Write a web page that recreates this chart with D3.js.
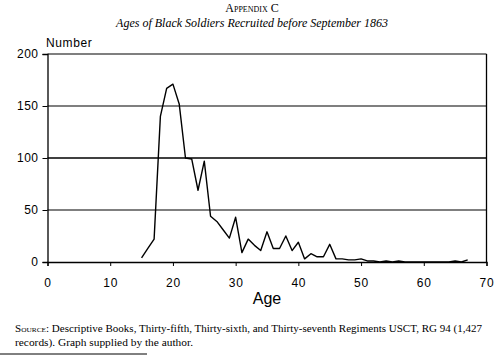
<!DOCTYPE html>
<html><head><meta charset="utf-8">
<script src="https://cdn.jsdelivr.net/npm/d3@7"></script>
<style>
html,body{margin:0;padding:0;background:#fff;}
svg{display:block;}
</style></head>
<body>
<svg id="c" width="500" height="355"></svg>
<script>
const ages = [15,16,17,18,19,20,21,22,23,24,25,26,27,28,29,30,31,32,33,34,35,36,37,38,39,40,41,42,43,44,45,46,47,48,49,50,51,52,53,54,55,56,57,58,59,60,61,62,63,64,65,66,67];
const counts = [4,13,22,140,167,171,152,100,99,69,97,44,39,31,23,43,9,22,16,11,29,13,13,25,11,19,3,8,5,5,17,3,3,2,2,3,1,1,0,1,0,1,0,0,0,0,0,0,0,0,1,0,2];
const xTicks = [0,10,20,30,40,50,60,70];
const yTicks = [0,50,100,150,200];
const titleLine1 = "Appendix C";
const titleLine2 = "Ages of Black Soldiers Recruited before September 1863";
const yLabel = "Number";
const xLabel = "Age";
const sourceLine1 = "Descriptive Books, Thirty-fifth, Thirty-sixth, and Thirty-seventh Regiments USCT, RG 94 (1,427";
const sourceLine2 = "records). Graph supplied by the author.";

const svg = d3.select("#c");
const x = d3.scaleLinear().domain([0,70]).range([47.5,486.5]);
const y = d3.scaleLinear().domain([0,200]).range([262,54]);
const sans = "'Liberation Sans', Arial, sans-serif";
const serif = "'Liberation Serif', 'Times New Roman', serif";

// titles
svg.append("text").attr("x",252).attr("y",12).attr("text-anchor","middle")
  .attr("font-family",serif).attr("font-size",12).style("font-variant","small-caps")
  .text(titleLine1);
svg.append("text").attr("x",252).attr("y",27).attr("text-anchor","middle")
  .attr("font-family",serif).attr("font-size",12).attr("font-style","italic")
  .text(titleLine2);

// gridlines
svg.append("g").selectAll("line").data(yTicks.filter(d=>d>0)).join("line")
  .attr("x1",x(0)).attr("x2",x(70)).attr("y1",d=>y(d)).attr("y2",d=>y(d))
  .attr("stroke","#000").attr("stroke-width",d=>d===100?1.6:1.1);
// frame right
svg.append("line").attr("x1",x(70)).attr("x2",x(70)).attr("y1",y(200)).attr("y2",y(0))
  .attr("stroke","#000").attr("stroke-width",1.3);

// axes
const yAxis = d3.axisLeft(y).tickValues(yTicks).tickSize(5).tickPadding(4);
const gy = svg.append("g").attr("transform",`translate(${x(0)},0)`).call(yAxis);
gy.select(".domain").attr("stroke-width",1.3);
gy.selectAll("text").attr("font-family",sans).attr("font-size",12).attr("fill","#000").attr("letter-spacing","0.5px");

const xAxis = d3.axisBottom(x).tickValues(xTicks).tickSize(4).tickPadding(12);
const gx = svg.append("g").attr("transform",`translate(0,${y(0)})`).call(xAxis);
gx.select(".domain").attr("stroke-width",1.3);
gx.selectAll("text").attr("font-family",sans).attr("font-size",12).attr("fill","#000").attr("letter-spacing","0.8px");

svg.append("text").attr("x",46).attr("y",47).attr("font-family",sans).attr("font-size",12)
  .attr("letter-spacing","0.6px").text(yLabel);
svg.append("text").attr("x",267).attr("y",304).attr("text-anchor","middle")
  .attr("font-family",sans).attr("font-size",16).text(xLabel);

// data line
const line = d3.line().x((d,i)=>x(ages[i])).y(d=>y(d));
svg.append("path").datum(counts).attr("d",line).attr("fill","none")
  .attr("stroke","#000").attr("stroke-width",1.4).attr("stroke-linejoin","round");

// source
const s1 = svg.append("text").attr("x",15).attr("y",332).attr("font-family",serif).attr("font-size",10.5)
  .attr("textLength",467).attr("lengthAdjust","spacingAndGlyphs");
s1.append("tspan").style("font-variant","small-caps").text("Source:");
s1.append("tspan").text(" " + sourceLine1);
svg.append("text").attr("x",15).attr("y",346).attr("font-family",serif).attr("font-size",10.5)
  .attr("textLength",178).attr("lengthAdjust","spacingAndGlyphs")
  .text(sourceLine2);
// page rule under the note
svg.append("line").attr("x1",0).attr("x2",147).attr("y1",354).attr("y2",354)
  .attr("stroke","#000").attr("stroke-width",1);
</script>
</body></html>
